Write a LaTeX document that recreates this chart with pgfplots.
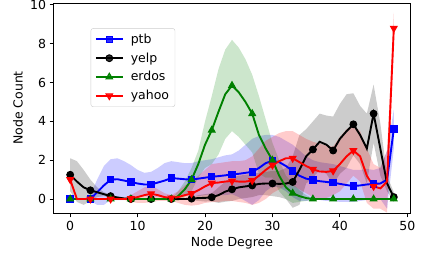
\documentclass[border=0pt]{standalone}
\usepackage{fontspec}
\setmainfont{DejaVu Sans}
\usepackage{pgfplots}
\usepackage{pgfplotstable}
\pgfplotsset{compat=1.18}
\usepgfplotslibrary{fillbetween}
\definecolor{mplgreen}{rgb}{0,0.5,0}

\pgfplotstableread{
x  ptb  ptbU ptbL  yelp yelpU yelpL  erdos erdosU erdosL  yahoo yahooU yahooL
0  0    0    0     1.25 2.1   0.4    0     0.02   -0.02   1.0   1.1    0.9
1  0    0    0     0.9  1.95  -0.15  0     0.02   -0.02   0.0   0.05   -0.05
2  0    0    0     0.6  1.5   -0.3   0     0.02   -0.02   0.0   0.05   -0.05
3  0    0.2  -0.1  0.45 1.0   -0.1   0     0.02   -0.02   0.0   0.05   -0.05
4  0.35 1.0  -0.3  0.35 0.6   0.1    0     0.02   -0.02   0.0   0.05   -0.05
5  0.7  1.7  -0.3  0.25 0.35  0.15   0     0.02   -0.02   0.0   0.05   -0.05
6  1.0  2.05 -0.05 0.15 0.22  0.08   0     0.02   -0.02   0.0   0.05   -0.05
7  1.02 2.1  -0.06 0.08 0.12  0.04   0     0.02   -0.02   0.0   0.05   -0.05
8  0.95 1.95 -0.05 0.03 0.05  0.01   0     0.02   -0.02   0.0   0.05   -0.05
9  0.88 1.75 0.0   0    0.01  -0.01  0     0.02   -0.02   0.03  0.2    -0.14
10 0.8  1.5  0.1   0    0.01  -0.01  0     0.02   -0.02   0.1   0.4    -0.2
11 0.75 1.35 0.15  0    0.01  -0.01  0     0.02   -0.02   0.2   0.6    -0.2
12 0.75 1.4  0.1   0    0.01  -0.01  0     0.02   -0.02   0.27  0.7    -0.16
13 0.85 1.6  0.1   0    0.01  -0.01  0     0.02   -0.02   0.2   0.5    -0.1
14 0.95 1.85 0.05  0    0.01  -0.01  0     0.02   -0.02   0.1   0.3    -0.1
15 1.08 1.95 0.2   0    0.01  -0.01  0     0.02   -0.02   0.05  0.2    -0.1
16 1.05 1.9  0.2   0    0.01  -0.01  0.15  0.4    -0.1    0.1   0.4    -0.2
17 1.02 1.85 0.2   0    0.01  -0.01  0.5   0.9    0.1     0.2   0.7    -0.3
18 1.0  1.85 0.15  0.02 0.1   -0.06  1.0   1.6    0.4     0.28  0.9    -0.34
19 1.05 1.95 0.15  0.05 0.2   -0.1   1.8   2.5    1.1     0.45  1.2    -0.3
20 1.1  2.0  0.2   0.06 0.25  -0.13  2.8   4.0    1.6     0.65  1.5    -0.2
21 1.15 2.05 0.25  0.09 0.3   -0.12  3.55  5.3    1.8     0.82  1.8    -0.16
22 1.18 2.15 0.2   0.2  0.6   -0.2   4.5   6.7    2.3     0.85  1.85   -0.15
23 1.22 2.25 0.2   0.38 0.9   -0.14  5.4   7.7    3.1     0.9   1.9    -0.1
24 1.27 2.3  0.25  0.5  1.1   -0.1   5.85  8.2    3.5     0.93  1.95   -0.1
25 1.3  2.5  0.1   0.6  1.2   0.0    5.5   7.8    3.2     0.9   1.95   -0.15
26 1.35 2.8  -0.1  0.65 1.25  0.05   5.0   7.2    2.8     0.9   2.0    -0.2
27 1.4  3.1  -0.3  0.7  1.3   0.1    4.4   6.4    2.4     0.95  2.2    -0.3
28 1.6  3.25 -0.05 0.78 1.35  0.2    3.3   5.3    1.3     1.2   2.6    -0.2
29 1.85 3.3  0.4   0.8  1.4   0.2    2.6   4.1    1.1     1.5   3.0    0.0
30 1.97 3.3  0.65  0.8  1.45  0.15   2.0   2.9    1.1     1.75  3.2    0.3
31 1.9  3.2  0.6   0.78 1.45  0.1    1.2   2.0    0.4     1.95  3.4    0.5
32 1.7  3.0  0.4   0.8  1.6   0.0    0.6   1.2    0.0     2.1   3.5    0.7
33 1.45 2.8  0.1   0.88 2.2   -0.45  0.3   0.8    -0.2    2.1   3.5    0.7
34 1.2  2.5  -0.1  1.5  3.3   -0.3   0.15  0.45   -0.15   1.9   3.3    0.5
35 1.05 2.2  -0.1  2.2  3.6   0.8    0.05  0.2    -0.1    1.7   3.1    0.3
36 0.98 2.0  -0.05 2.55 4.0   1.1    0     0.02   -0.02   1.53  2.95   0.1
37 0.92 1.9  -0.05 2.95 4.4   1.5    0     0.02   -0.02   1.42  2.85   0.0
38 0.88 1.85 -0.1  2.8  4.3   1.3    0     0.02   -0.02   1.4   2.75   0.05
39 0.84 1.8  -0.1  2.5  4.25  0.75   0     0.02   -0.02   1.45  2.7    0.2
40 0.78 1.7  -0.15 3.1  4.9   1.3    0     0.02   -0.02   1.8   3.2    0.4
41 0.72 1.6  -0.15 3.5  5.4   1.6    0     0.02   -0.02   2.2   3.6    0.8
42 0.67 1.5  -0.15 3.85 5.45  2.25   0     0.02   -0.02   2.5   3.8    1.2
43 0.7  1.5  -0.1  3.3  4.8   1.8    0     0.02   -0.02   2.2   3.5    0.9
44 0.75 1.55 -0.05 2.6  4.4   0.8    0     0.02   -0.02   1.2   2.6    -0.2
45 0.78 1.5  0.05  4.4  5.9   2.9    0     0.02   -0.02   0.65  1.8    -0.5
46 0.8  1.6  0.0   2.6  3.9   1.2    0     0.02   -0.02   0.55  1.6    -0.5
47 1.0  2.5  -0.5  0.8  1.2   0.4    0     0.02   -0.02   0.9   2.5    -0.7
48 3.6  4.6  2.6   0.1  0.35  -0.15  0     0.02   -0.02   8.8   9.6    8.0
}\data

\begin{document}
\begin{tikzpicture}
\begin{axis}[
  at={(0pt,0pt)}, anchor=south west,
  scale only axis, width=356pt, height=210pt,
  xmin=-2.4, xmax=50.4, ymin=-0.72, ymax=10.1,
  xtick={0,10,20,30,40,50}, ytick={0,2,4,6,8,10},
  minor tick num=0,
  tick align=outside, major tick length=4.4pt,
  xtick pos=bottom, ytick pos=left,
  every tick/.style={black, line width=1pt},
  axis line style={line width=1pt},
  font=\fontsize{12.5}{15}\selectfont,
  /pgf/number format/assume math mode=true,
  ticklabel style={font=\fontsize{12.5}{15}\selectfont},
  xlabel={Node Degree}, ylabel={Node Count},
  xlabel style={at={(axis description cs:0.5,-0.143)}, anchor=center},
  ylabel style={at={(axis description cs:-0.101,0.5)}, anchor=center},
  legend cell align=left,
  legend style={at={(axis description cs:0.103,0.88)}, anchor=north west,
    draw=black!20, fill=white, fill opacity=0.8, draw opacity=1, text opacity=1,
    rounded corners=2.5pt, font=\fontsize{12.5}{15}\selectfont,
    row sep=3.8pt, column sep=5pt, inner xsep=4pt, inner ysep=3.5pt},
  legend image code/.code={\draw[mark repeat=2,mark phase=2] plot coordinates {(0pt,0pt) (13.5pt,0pt) (27pt,0pt)};},
]
% bands
\addplot[name path=pU, draw=none, forget plot] table[x=x,y=ptbU]{\data};
\addplot[name path=pL, draw=none, forget plot] table[x=x,y=ptbL]{\data};
\addplot[blue, fill opacity=0.2, draw=none, forget plot] fill between[of=pU and pL];
\addplot[name path=yU, draw=none, forget plot] table[x=x,y=yelpU]{\data};
\addplot[name path=yL, draw=none, forget plot] table[x=x,y=yelpL]{\data};
\addplot[black, fill opacity=0.2, draw=none, forget plot] fill between[of=yU and yL];
\addplot[name path=eU, draw=none, forget plot] table[x=x,y=erdosU]{\data};
\addplot[name path=eL, draw=none, forget plot] table[x=x,y=erdosL]{\data};
\addplot[mplgreen, fill opacity=0.2, draw=none, forget plot] fill between[of=eU and eL];
\addplot[name path=hU, draw=none, forget plot] table[x=x,y=yahooU]{\data};
\addplot[name path=hL, draw=none, forget plot] table[x=x,y=yahooL]{\data};
\addplot[red, fill opacity=0.2, draw=none, forget plot] fill between[of=hU and hL];
% lines
\addplot[blue, line width=1.9pt, mark=square*, mark size=3.2pt, mark repeat=3, mark options={line width=1pt}] table[x=x,y=ptb]{\data};
\addlegendentry{ptb}
\addplot[black, line width=1.9pt, mark=*, mark size=3.4pt, mark repeat=3, mark options={line width=1pt}] table[x=x,y=yelp]{\data};
\addlegendentry{yelp}
\addplot[mplgreen, line width=1.9pt, mark=triangle*, mark size=3.8pt, mark repeat=3, mark options={line width=1pt}] table[x=x,y=erdos]{\data};
\addlegendentry{erdos}
\addplot[red, line width=1.9pt, mark=triangle*, mark size=3.8pt, mark repeat=3, mark options={line width=1pt, rotate=180}] table[x=x,y=yahoo]{\data};
\addlegendentry{yahoo}
\end{axis}
\pgfresetboundingbox
\path (-54pt,-45pt) rectangle (367pt,213pt);
\end{tikzpicture}
\end{document}
